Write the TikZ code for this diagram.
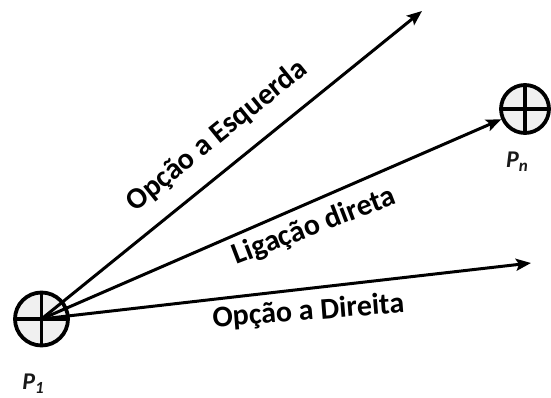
\documentclass[tikz,border=0pt]{standalone}
\usepackage{fontspec}
\setmainfont{Carlito}
\usetikzlibrary{arrows.meta}
\tikzset{
  ponto/.style={circle, draw, line width=3.8pt, fill=black!6, inner sep=0pt,
    path picture={\draw[line width=3.2pt] (path picture bounding box.north) -- (path picture bounding box.south)
      (path picture bounding box.west) -- (path picture bounding box.east);}},
  rota/.style={line width=3pt, -{Stealth[length=15pt, width=12pt, inset=3pt]}},
  rotulo/.style={font=\bfseries\fontsize{30}{32}\selectfont, inner sep=0pt, anchor=base},
  nome/.style={font=\bfseries\itshape\fontsize{24}{26}\selectfont, text=black!90, inner sep=0pt}
}
\begin{document}
\begin{tikzpicture}[x=1pt, y=-1pt]
\useasboundingbox (0,0) rectangle (551,398);
\node[ponto, minimum size=53pt] (p1) at (41.5,319){};
\node[ponto, minimum size=48pt] (pn) at (525,109){};
\coordinate (esq) at (422,11);
\coordinate (dir) at (531,263);
\draw[rota] (p1.center) -- (esq);
\draw[rota] (p1.center) -- (pn);
\draw[rota] (p1.center) -- (dir);
\node[rotulo, rotate=39] (tesq) at (222,142) {Opção a Esquerda};
\node[rotulo, rotate=21] (tlig) at (317,234) {Ligação direta};
\node[rotulo, rotate=4.5] (tdir) at (309,320) {Opção a Direita};
\node[nome] (np1) at (33,384) {P\raisebox{-0.35ex}{\fontsize{17}{18}\selectfont 1}};
\node[nome] (npn) at (517,162) {P\raisebox{-0.35ex}{\fontsize{17}{18}\selectfont n}};
\end{tikzpicture}
\end{document}
